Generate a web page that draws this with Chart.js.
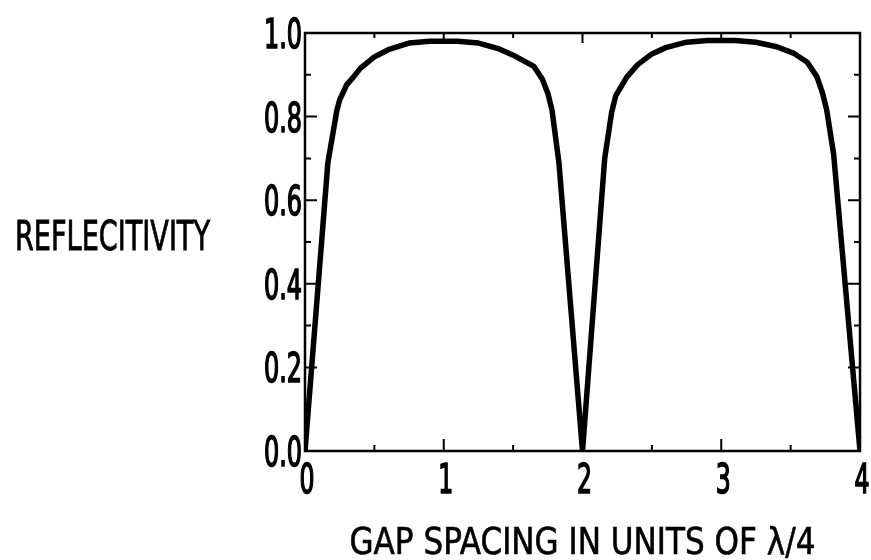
<!DOCTYPE html>
<html>
<head>
<meta charset="utf-8">
<script src="https://cdn.jsdelivr.net/npm/chart.js@4"></script>
<style>
  html, body { margin: 0; padding: 0; background: #fff; }
  #wrap { width: 871px; height: 560px; }
</style>
</head>
<body>
<div id="wrap"><canvas id="rChart" width="871" height="560"></canvas></div>
<script>
  // values
  const gapSpacing = [0, 0.165, 0.23, 0.25, 0.3, 0.35, 0.4, 0.5, 0.6, 0.75, 0.9, 1.1, 1.25, 1.4, 1.5, 1.65, 1.71, 1.75, 1.78, 1.83, 2.0,
                      2.16, 2.21, 2.24, 2.32, 2.4, 2.5, 2.6, 2.75, 2.9, 3.1, 3.25, 3.4, 3.52, 3.62, 3.69, 3.73, 3.76, 3.81, 4.0];
  const reflectivity = [0, 0.69, 0.815, 0.84, 0.876, 0.895, 0.916, 0.943, 0.96, 0.976, 0.98, 0.98, 0.976, 0.962, 0.947, 0.92, 0.89, 0.856, 0.816, 0.69, 0,
                        0.70, 0.81, 0.85, 0.895, 0.925, 0.95, 0.965, 0.978, 0.982, 0.982, 0.978, 0.967, 0.952, 0.93, 0.895, 0.856, 0.816, 0.71, 0];
  const xMinor = [0.5, 1.5, 2.5, 3.5];
  const yMinor = [0.1, 0.3, 0.5, 0.7, 0.9];
  const xTitle = 'GAP SPACING IN UNITS OF \u03BB/4';
  const yTitle = 'REFLECITIVITY';

  const FONT = "'DejaVu Sans Condensed', 'Liberation Sans Narrow', sans-serif";

  // the scan uses a very narrow face, so squeeze the text horizontally
  function narrowText(ctx, str, x, y, font, width, align, extra) {
    ctx.font = font + ' ' + FONT;
    const w = ctx.measureText(str).width;
    ctx.save();
    ctx.translate(x, y);
    ctx.scale(width / w, 1);
    ctx.textAlign = align;
    ctx.textBaseline = 'alphabetic';
    ctx.fillText(str, 0, 0);
    if (extra) {
      ctx.lineWidth = extra;
      ctx.strokeStyle = '#000';
      ctx.strokeText(str, 0, 0);
    }
    ctx.restore();
  }

  const framePlugin = {
    id: 'frame',
    afterDraw(chart) {
      const { ctx, chartArea: a, scales: { x, y } } = chart;
      ctx.save();
      ctx.strokeStyle = '#000';
      ctx.lineWidth = 2.5;
      ctx.strokeRect(a.left, a.top, a.right - a.left, a.bottom - a.top);
      ctx.lineWidth = 2;
      ctx.beginPath();
      x.ticks.forEach(t => {
        const px = x.getPixelForValue(t.value);
        ctx.moveTo(px, a.bottom); ctx.lineTo(px, a.bottom - 12);
        ctx.moveTo(px, a.top); ctx.lineTo(px, a.top + 10);
      });
      xMinor.forEach(v => {
        const px = x.getPixelForValue(v);
        ctx.moveTo(px, a.bottom); ctx.lineTo(px, a.bottom - 6);
        ctx.moveTo(px, a.top); ctx.lineTo(px, a.top + 5);
      });
      y.ticks.forEach(t => {
        const py = y.getPixelForValue(t.value);
        ctx.moveTo(a.left, py); ctx.lineTo(a.left + 12, py);
        ctx.moveTo(a.right, py); ctx.lineTo(a.right - 12, py);
      });
      yMinor.forEach(v => {
        const py = y.getPixelForValue(v);
        ctx.moveTo(a.left, py); ctx.lineTo(a.left + 6, py);
        ctx.moveTo(a.right, py); ctx.lineTo(a.right - 6, py);
      });
      ctx.stroke();

      ctx.fillStyle = '#000';
      // tick labels from the library's own ticks
      x.ticks.forEach(t => {
        narrowText(ctx, String(t.value), x.getPixelForValue(t.value) + 2, a.bottom + 42, '41px', 15, 'center', 1.6);
      });
      y.ticks.forEach(t => {
        narrowText(ctx, t.value.toFixed(1), a.left - 3, y.getPixelForValue(t.value) + 15, '41px', 38, 'right', 1.6);
      });
      narrowText(ctx, xTitle, (a.left + a.right) / 2, 554, '38px', 466, 'center', 0.6);
      narrowText(ctx, yTitle, 15, 250, '41px', 195, 'left', 0.8);
      ctx.restore();
    }
  };

  const ctx = document.getElementById('rChart').getContext('2d');
  new Chart(ctx, {
    type: 'line',
    data: {
      datasets: [{
        data: gapSpacing.map((g, i) => ({ x: g, y: reflectivity[i] })),
        borderColor: '#000',
        borderWidth: 5.5,
        pointRadius: 0,
        fill: false,
        tension: 0,
        borderJoinStyle: 'round'
      }]
    },
    options: {
      responsive: false,
      animation: false,
      layout: { padding: { top: 33, right: 11, left: 0, bottom: 0 } },
      plugins: { legend: { display: false }, tooltip: { enabled: false } },
      scales: {
        x: {
          type: 'linear', min: 0, max: 4,
          grid: { display: false, drawTicks: false },
          border: { display: false },
          ticks: { stepSize: 1, display: false },
          afterFit(s) { s.height = 109; }
        },
        y: {
          min: 0, max: 1,
          grid: { display: false, drawTicks: false },
          border: { display: false },
          ticks: { stepSize: 0.2, display: false },
          afterFit(s) { s.width = 305; }
        }
      }
    },
    plugins: [framePlugin]
  });
</script>
</body>
</html>
